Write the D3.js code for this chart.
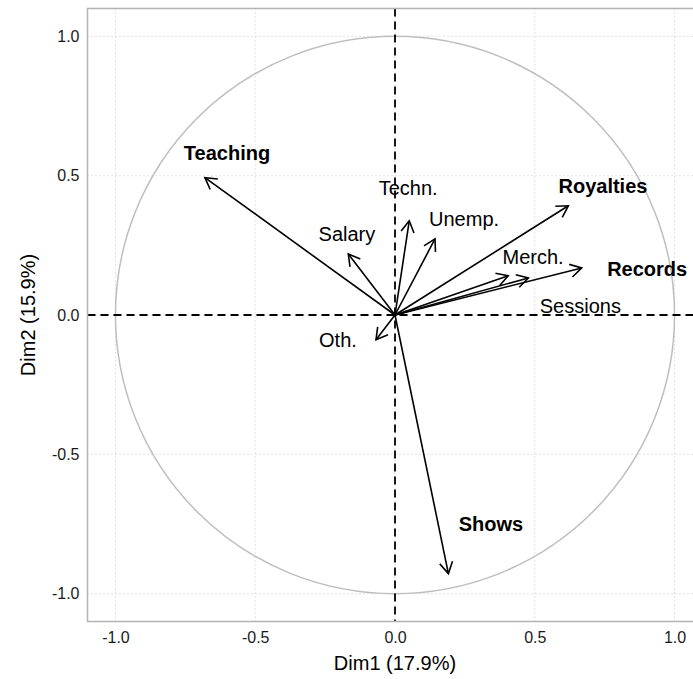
<!DOCTYPE html>
<html>
<head>
<meta charset="utf-8">
<script src="https://cdn.jsdelivr.net/npm/d3@7"></script>
<style>
  html, body { margin: 0; padding: 0; background: #fff; }
  svg { display: block; font-family: "Liberation Sans", Arial, Helvetica, sans-serif; }
</style>
</head>
<body>
<svg id="chart" width="693" height="679"></svg>
<script>
// ---- data ----
const variables = ["Teaching", "Salary", "Techn.", "Unemp.", "Royalties", "Merch.", "Sessions", "Records", "Shows", "Oth."];
const dim1 = [-0.68, -0.167, 0.051, 0.143, 0.62, 0.405, 0.477, 0.668, 0.191, -0.068];
const dim2 = [0.493, 0.219, 0.338, 0.273, 0.392, 0.141, 0.133, 0.169, -0.928, -0.089];
const labelDim1 = [-0.601, -0.172, 0.047, 0.247, 0.744, 0.494, 0.663, 0.902, 0.343, -0.204];
const labelDim2 = [0.581, 0.292, 0.456, 0.345, 0.463, 0.209, 0.034, 0.166, -0.750, -0.088];
const highlighted = ["Teaching", "Royalties", "Records", "Shows"];
const tickValues = [-1.0, -0.5, 0.0, 0.5, 1.0];
const tickLabels = ["-1.0", "-0.5", "0.0", "0.5", "1.0"];
const xTitle = "Dim1 (17.9%)";
const yTitle = "Dim2 (15.9%)";

// ---- layout ----
const svg = d3.select("#chart");
const x = d3.scaleLinear().domain([-1.1, 1.1]).range([87.5, 702.5]);
const y = d3.scaleLinear().domain([-1.1, 1.1]).range([621.5, 8.5]);

const fmt = (d) => tickLabels[tickValues.indexOf(d)];

// grid
const grid = svg.append("g");
tickValues.forEach(v => {
  grid.append("line").attr("x1", x(v)).attr("x2", x(v)).attr("y1", y(1.1)).attr("y2", y(-1.1))
    .attr("stroke", "#c4c4c4").attr("stroke-width", 1).attr("stroke-dasharray", "1,3");
  grid.append("line").attr("y1", y(v)).attr("y2", y(v)).attr("x1", x(-1.1)).attr("x2", x(1.1))
    .attr("stroke", "#c4c4c4").attr("stroke-width", 1).attr("stroke-dasharray", "1,3");
});

// circle
svg.append("ellipse")
  .attr("cx", x(0)).attr("cy", y(0))
  .attr("rx", x(1) - x(0)).attr("ry", y(0) - y(1))
  .attr("fill", "none").attr("stroke", "#bebebe").attr("stroke-width", 1.5);

// dashed axes
svg.append("line").attr("x1", x(-1.1)).attr("x2", x(1.1)).attr("y1", y(0)).attr("y2", y(0))
  .attr("stroke", "#000").attr("stroke-width", 1.8).attr("stroke-dasharray", "8,5");
svg.append("line").attr("y1", y(1.1)).attr("y2", y(-1.1)).attr("x1", x(0)).attr("x2", x(0))
  .attr("stroke", "#000").attr("stroke-width", 1.8).attr("stroke-dasharray", "8,5");

// arrows
const arrows = svg.append("g");
const headLen = 13, headAng = Math.PI / 6;
variables.forEach((name, i) => {
  const x0 = x(0), y0 = y(0), x1 = x(dim1[i]), y1 = y(dim2[i]);
  const ang = Math.atan2(y1 - y0, x1 - x0);
  arrows.append("line").attr("x1", x0).attr("y1", y0).attr("x2", x1).attr("y2", y1)
    .attr("stroke", "#000").attr("stroke-width", 1.6);
  const p = d3.path();
  p.moveTo(x1 - headLen * Math.cos(ang - headAng), y1 - headLen * Math.sin(ang - headAng));
  p.lineTo(x1, y1);
  p.lineTo(x1 - headLen * Math.cos(ang + headAng), y1 - headLen * Math.sin(ang + headAng));
  arrows.append("path").attr("d", p.toString()).attr("fill", "none")
    .attr("stroke", "#000").attr("stroke-width", 1.6).attr("stroke-linejoin", "miter");
});

// labels
svg.append("g").selectAll("text").data(variables).join("text")
  .attr("x", (d, i) => x(labelDim1[i]))
  .attr("y", (d, i) => y(labelDim2[i]))
  .attr("text-anchor", "middle")
  .attr("dominant-baseline", "central")
  .attr("font-size", 20)
  .attr("font-weight", d => highlighted.includes(d) ? "bold" : "normal")
  .attr("fill", "#000")
  .text(d => d);

// panel border
svg.append("rect").attr("x", x(-1.1)).attr("y", y(1.1))
  .attr("width", x(1.1) - x(-1.1)).attr("height", y(-1.1) - y(1.1))
  .attr("fill", "none").attr("stroke", "#b3b3b3").attr("stroke-width", 1.5);

// axes
const xAxis = svg.append("g").attr("transform", `translate(0,${y(-1.1)})`)
  .call(d3.axisBottom(x).tickValues(tickValues).tickFormat(fmt).tickSize(0).tickPadding(10));
const yAxis = svg.append("g").attr("transform", `translate(${x(-1.1)},0)`)
  .call(d3.axisLeft(y).tickValues(tickValues).tickFormat(fmt).tickSize(0).tickPadding(8));
[xAxis, yAxis].forEach(a => {
  a.select(".domain").remove();
  a.selectAll("text").attr("font-size", 16).attr("fill", "#1a1a1a")
    .attr("font-family", "'Liberation Sans', Arial, sans-serif");
});

// titles
svg.append("text").attr("x", x(0)).attr("y", 670)
  .attr("text-anchor", "middle").attr("font-size", 20).attr("fill", "#000").text(xTitle);
svg.append("text").attr("transform", `translate(35,${y(0)}) rotate(-90)`)
  .attr("text-anchor", "middle").attr("font-size", 20).attr("fill", "#000").text(yTitle);
</script>
</body>
</html>
